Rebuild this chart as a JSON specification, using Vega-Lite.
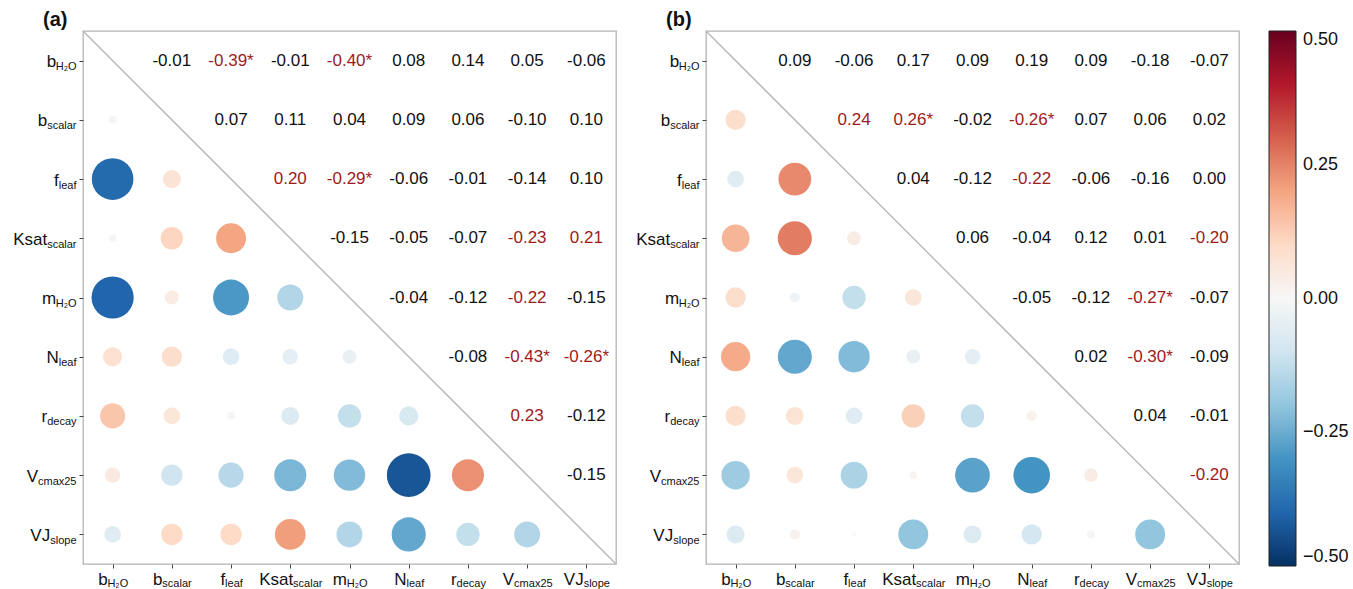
{
  "$schema": "https://vega.github.io/schema/vega-lite/v6.json",
  "padding": {"left": 12, "top": 9, "right": 0, "bottom": 0},
  "background": "white",
  "config": {
    "view": {"stroke": "#b4b4b4", "strokeWidth": 1.3},
    "font": "Liberation Sans",
    "axis": {"grid": false, "domain": false, "title": null, "labelFont": "Liberation Sans", "labelColor": "#111111", "tickColor": "#444444", "tickSize": 4, "labelAngle": 0, "labelLimit": 0, "labelOverlap": false},
    "title": {"font": "Liberation Sans", "fontSize": 20, "fontWeight": "bold", "anchor": "start", "frame": "group", "color": "#111111"}
  },
  "datasets": {
    "cells": [
      {"p":"a","part":"upper","row":"bH2O","col":"bscalar","r":-0.01,"label":"-0.01"},
      {"p":"a","part":"upper","row":"bH2O","col":"fleaf","r":-0.39,"label":"-0.39*"},
      {"p":"a","part":"upper","row":"bH2O","col":"Ksat","r":-0.01,"label":"-0.01"},
      {"p":"a","part":"upper","row":"bH2O","col":"mH2O","r":-0.40,"label":"-0.40*"},
      {"p":"a","part":"upper","row":"bH2O","col":"Nleaf","r":0.08,"label":"0.08"},
      {"p":"a","part":"upper","row":"bH2O","col":"rdecay","r":0.14,"label":"0.14"},
      {"p":"a","part":"upper","row":"bH2O","col":"Vcmax","r":0.05,"label":"0.05"},
      {"p":"a","part":"upper","row":"bH2O","col":"VJ","r":-0.06,"label":"-0.06"},
      {"p":"a","part":"upper","row":"bscalar","col":"fleaf","r":0.07,"label":"0.07"},
      {"p":"a","part":"upper","row":"bscalar","col":"Ksat","r":0.11,"label":"0.11"},
      {"p":"a","part":"upper","row":"bscalar","col":"mH2O","r":0.04,"label":"0.04"},
      {"p":"a","part":"upper","row":"bscalar","col":"Nleaf","r":0.09,"label":"0.09"},
      {"p":"a","part":"upper","row":"bscalar","col":"rdecay","r":0.06,"label":"0.06"},
      {"p":"a","part":"upper","row":"bscalar","col":"Vcmax","r":-0.10,"label":"-0.10"},
      {"p":"a","part":"upper","row":"bscalar","col":"VJ","r":0.10,"label":"0.10"},
      {"p":"a","part":"upper","row":"fleaf","col":"Ksat","r":0.20,"label":"0.20"},
      {"p":"a","part":"upper","row":"fleaf","col":"mH2O","r":-0.29,"label":"-0.29*"},
      {"p":"a","part":"upper","row":"fleaf","col":"Nleaf","r":-0.06,"label":"-0.06"},
      {"p":"a","part":"upper","row":"fleaf","col":"rdecay","r":-0.01,"label":"-0.01"},
      {"p":"a","part":"upper","row":"fleaf","col":"Vcmax","r":-0.14,"label":"-0.14"},
      {"p":"a","part":"upper","row":"fleaf","col":"VJ","r":0.10,"label":"0.10"},
      {"p":"a","part":"upper","row":"Ksat","col":"mH2O","r":-0.15,"label":"-0.15"},
      {"p":"a","part":"upper","row":"Ksat","col":"Nleaf","r":-0.05,"label":"-0.05"},
      {"p":"a","part":"upper","row":"Ksat","col":"rdecay","r":-0.07,"label":"-0.07"},
      {"p":"a","part":"upper","row":"Ksat","col":"Vcmax","r":-0.23,"label":"-0.23"},
      {"p":"a","part":"upper","row":"Ksat","col":"VJ","r":0.21,"label":"0.21"},
      {"p":"a","part":"upper","row":"mH2O","col":"Nleaf","r":-0.04,"label":"-0.04"},
      {"p":"a","part":"upper","row":"mH2O","col":"rdecay","r":-0.12,"label":"-0.12"},
      {"p":"a","part":"upper","row":"mH2O","col":"Vcmax","r":-0.22,"label":"-0.22"},
      {"p":"a","part":"upper","row":"mH2O","col":"VJ","r":-0.15,"label":"-0.15"},
      {"p":"a","part":"upper","row":"Nleaf","col":"rdecay","r":-0.08,"label":"-0.08"},
      {"p":"a","part":"upper","row":"Nleaf","col":"Vcmax","r":-0.43,"label":"-0.43*"},
      {"p":"a","part":"upper","row":"Nleaf","col":"VJ","r":-0.26,"label":"-0.26*"},
      {"p":"a","part":"upper","row":"rdecay","col":"Vcmax","r":0.23,"label":"0.23"},
      {"p":"a","part":"upper","row":"rdecay","col":"VJ","r":-0.12,"label":"-0.12"},
      {"p":"a","part":"upper","row":"Vcmax","col":"VJ","r":-0.15,"label":"-0.15"},
      {"p":"a","part":"lower","row":"bscalar","col":"bH2O","r":-0.01},
      {"p":"a","part":"lower","row":"fleaf","col":"bH2O","r":-0.39},
      {"p":"a","part":"lower","row":"fleaf","col":"bscalar","r":0.07},
      {"p":"a","part":"lower","row":"Ksat","col":"bH2O","r":-0.01},
      {"p":"a","part":"lower","row":"Ksat","col":"bscalar","r":0.11},
      {"p":"a","part":"lower","row":"Ksat","col":"fleaf","r":0.20},
      {"p":"a","part":"lower","row":"mH2O","col":"bH2O","r":-0.40},
      {"p":"a","part":"lower","row":"mH2O","col":"bscalar","r":0.04},
      {"p":"a","part":"lower","row":"mH2O","col":"fleaf","r":-0.29},
      {"p":"a","part":"lower","row":"mH2O","col":"Ksat","r":-0.15},
      {"p":"a","part":"lower","row":"Nleaf","col":"bH2O","r":0.08},
      {"p":"a","part":"lower","row":"Nleaf","col":"bscalar","r":0.09},
      {"p":"a","part":"lower","row":"Nleaf","col":"fleaf","r":-0.06},
      {"p":"a","part":"lower","row":"Nleaf","col":"Ksat","r":-0.05},
      {"p":"a","part":"lower","row":"Nleaf","col":"mH2O","r":-0.04},
      {"p":"a","part":"lower","row":"rdecay","col":"bH2O","r":0.14},
      {"p":"a","part":"lower","row":"rdecay","col":"bscalar","r":0.06},
      {"p":"a","part":"lower","row":"rdecay","col":"fleaf","r":-0.01},
      {"p":"a","part":"lower","row":"rdecay","col":"Ksat","r":-0.07},
      {"p":"a","part":"lower","row":"rdecay","col":"mH2O","r":-0.12},
      {"p":"a","part":"lower","row":"rdecay","col":"Nleaf","r":-0.08},
      {"p":"a","part":"lower","row":"Vcmax","col":"bH2O","r":0.05},
      {"p":"a","part":"lower","row":"Vcmax","col":"bscalar","r":-0.10},
      {"p":"a","part":"lower","row":"Vcmax","col":"fleaf","r":-0.14},
      {"p":"a","part":"lower","row":"Vcmax","col":"Ksat","r":-0.23},
      {"p":"a","part":"lower","row":"Vcmax","col":"mH2O","r":-0.22},
      {"p":"a","part":"lower","row":"Vcmax","col":"Nleaf","r":-0.43},
      {"p":"a","part":"lower","row":"Vcmax","col":"rdecay","r":0.23},
      {"p":"a","part":"lower","row":"VJ","col":"bH2O","r":-0.06},
      {"p":"a","part":"lower","row":"VJ","col":"bscalar","r":0.10},
      {"p":"a","part":"lower","row":"VJ","col":"fleaf","r":0.10},
      {"p":"a","part":"lower","row":"VJ","col":"Ksat","r":0.21},
      {"p":"a","part":"lower","row":"VJ","col":"mH2O","r":-0.15},
      {"p":"a","part":"lower","row":"VJ","col":"Nleaf","r":-0.26},
      {"p":"a","part":"lower","row":"VJ","col":"rdecay","r":-0.12},
      {"p":"a","part":"lower","row":"VJ","col":"Vcmax","r":-0.15},

      {"p":"b","part":"upper","row":"bH2O","col":"bscalar","r":0.09,"label":"0.09"},
      {"p":"b","part":"upper","row":"bH2O","col":"fleaf","r":-0.06,"label":"-0.06"},
      {"p":"b","part":"upper","row":"bH2O","col":"Ksat","r":0.17,"label":"0.17"},
      {"p":"b","part":"upper","row":"bH2O","col":"mH2O","r":0.09,"label":"0.09"},
      {"p":"b","part":"upper","row":"bH2O","col":"Nleaf","r":0.19,"label":"0.19"},
      {"p":"b","part":"upper","row":"bH2O","col":"rdecay","r":0.09,"label":"0.09"},
      {"p":"b","part":"upper","row":"bH2O","col":"Vcmax","r":-0.18,"label":"-0.18"},
      {"p":"b","part":"upper","row":"bH2O","col":"VJ","r":-0.07,"label":"-0.07"},
      {"p":"b","part":"upper","row":"bscalar","col":"fleaf","r":0.24,"label":"0.24"},
      {"p":"b","part":"upper","row":"bscalar","col":"Ksat","r":0.26,"label":"0.26*"},
      {"p":"b","part":"upper","row":"bscalar","col":"mH2O","r":-0.02,"label":"-0.02"},
      {"p":"b","part":"upper","row":"bscalar","col":"Nleaf","r":-0.26,"label":"-0.26*"},
      {"p":"b","part":"upper","row":"bscalar","col":"rdecay","r":0.07,"label":"0.07"},
      {"p":"b","part":"upper","row":"bscalar","col":"Vcmax","r":0.06,"label":"0.06"},
      {"p":"b","part":"upper","row":"bscalar","col":"VJ","r":0.02,"label":"0.02"},
      {"p":"b","part":"upper","row":"fleaf","col":"Ksat","r":0.04,"label":"0.04"},
      {"p":"b","part":"upper","row":"fleaf","col":"mH2O","r":-0.12,"label":"-0.12"},
      {"p":"b","part":"upper","row":"fleaf","col":"Nleaf","r":-0.22,"label":"-0.22"},
      {"p":"b","part":"upper","row":"fleaf","col":"rdecay","r":-0.06,"label":"-0.06"},
      {"p":"b","part":"upper","row":"fleaf","col":"Vcmax","r":-0.16,"label":"-0.16"},
      {"p":"b","part":"upper","row":"fleaf","col":"VJ","r":0.0,"label":"0.00"},
      {"p":"b","part":"upper","row":"Ksat","col":"mH2O","r":0.06,"label":"0.06"},
      {"p":"b","part":"upper","row":"Ksat","col":"Nleaf","r":-0.04,"label":"-0.04"},
      {"p":"b","part":"upper","row":"Ksat","col":"rdecay","r":0.12,"label":"0.12"},
      {"p":"b","part":"upper","row":"Ksat","col":"Vcmax","r":0.01,"label":"0.01"},
      {"p":"b","part":"upper","row":"Ksat","col":"VJ","r":-0.20,"label":"-0.20"},
      {"p":"b","part":"upper","row":"mH2O","col":"Nleaf","r":-0.05,"label":"-0.05"},
      {"p":"b","part":"upper","row":"mH2O","col":"rdecay","r":-0.12,"label":"-0.12"},
      {"p":"b","part":"upper","row":"mH2O","col":"Vcmax","r":-0.27,"label":"-0.27*"},
      {"p":"b","part":"upper","row":"mH2O","col":"VJ","r":-0.07,"label":"-0.07"},
      {"p":"b","part":"upper","row":"Nleaf","col":"rdecay","r":0.02,"label":"0.02"},
      {"p":"b","part":"upper","row":"Nleaf","col":"Vcmax","r":-0.30,"label":"-0.30*"},
      {"p":"b","part":"upper","row":"Nleaf","col":"VJ","r":-0.09,"label":"-0.09"},
      {"p":"b","part":"upper","row":"rdecay","col":"Vcmax","r":0.04,"label":"0.04"},
      {"p":"b","part":"upper","row":"rdecay","col":"VJ","r":-0.01,"label":"-0.01"},
      {"p":"b","part":"upper","row":"Vcmax","col":"VJ","r":-0.20,"label":"-0.20"},
      {"p":"b","part":"lower","row":"bscalar","col":"bH2O","r":0.09},
      {"p":"b","part":"lower","row":"fleaf","col":"bH2O","r":-0.06},
      {"p":"b","part":"lower","row":"fleaf","col":"bscalar","r":0.24},
      {"p":"b","part":"lower","row":"Ksat","col":"bH2O","r":0.17},
      {"p":"b","part":"lower","row":"Ksat","col":"bscalar","r":0.26},
      {"p":"b","part":"lower","row":"Ksat","col":"fleaf","r":0.04},
      {"p":"b","part":"lower","row":"mH2O","col":"bH2O","r":0.09},
      {"p":"b","part":"lower","row":"mH2O","col":"bscalar","r":-0.02},
      {"p":"b","part":"lower","row":"mH2O","col":"fleaf","r":-0.12},
      {"p":"b","part":"lower","row":"mH2O","col":"Ksat","r":0.06},
      {"p":"b","part":"lower","row":"Nleaf","col":"bH2O","r":0.19},
      {"p":"b","part":"lower","row":"Nleaf","col":"bscalar","r":-0.26},
      {"p":"b","part":"lower","row":"Nleaf","col":"fleaf","r":-0.22},
      {"p":"b","part":"lower","row":"Nleaf","col":"Ksat","r":-0.04},
      {"p":"b","part":"lower","row":"Nleaf","col":"mH2O","r":-0.05},
      {"p":"b","part":"lower","row":"rdecay","col":"bH2O","r":0.09},
      {"p":"b","part":"lower","row":"rdecay","col":"bscalar","r":0.07},
      {"p":"b","part":"lower","row":"rdecay","col":"fleaf","r":-0.06},
      {"p":"b","part":"lower","row":"rdecay","col":"Ksat","r":0.12},
      {"p":"b","part":"lower","row":"rdecay","col":"mH2O","r":-0.12},
      {"p":"b","part":"lower","row":"rdecay","col":"Nleaf","r":0.02},
      {"p":"b","part":"lower","row":"Vcmax","col":"bH2O","r":-0.18},
      {"p":"b","part":"lower","row":"Vcmax","col":"bscalar","r":0.06},
      {"p":"b","part":"lower","row":"Vcmax","col":"fleaf","r":-0.16},
      {"p":"b","part":"lower","row":"Vcmax","col":"Ksat","r":0.01},
      {"p":"b","part":"lower","row":"Vcmax","col":"mH2O","r":-0.27},
      {"p":"b","part":"lower","row":"Vcmax","col":"Nleaf","r":-0.30},
      {"p":"b","part":"lower","row":"Vcmax","col":"rdecay","r":0.04},
      {"p":"b","part":"lower","row":"VJ","col":"bH2O","r":-0.07},
      {"p":"b","part":"lower","row":"VJ","col":"bscalar","r":0.02},
      {"p":"b","part":"lower","row":"VJ","col":"fleaf","r":0.0},
      {"p":"b","part":"lower","row":"VJ","col":"Ksat","r":-0.20},
      {"p":"b","part":"lower","row":"VJ","col":"mH2O","r":-0.07},
      {"p":"b","part":"lower","row":"VJ","col":"Nleaf","r":-0.09},
      {"p":"b","part":"lower","row":"VJ","col":"rdecay","r":-0.01},
      {"p":"b","part":"lower","row":"VJ","col":"Vcmax","r":-0.20}
    ]
  },
  "spacing": 17,
  "resolve": {"scale": {"color": "shared", "size": "shared"}},
  "hconcat": [
    {
      "title": {"text": "(a)", "dx": -40, "offset": 0},
      "width": 533,
      "height": 533,
      "data": {"name": "cells"},
      "transform": [{"filter": "datum.p == 'a'"}],
      "resolve": {"axis": {"x": "independent", "y": "independent"}},
      "layer": [
        {
          "transform": [{"filter": "datum.part == 'lower'"}],
          "mark": {"type": "circle", "opacity": 1},
          "encoding": {
            "x": {"field": "col", "type": "nominal", "scale": {"domain": ["bH2O","bscalar","fleaf","Ksat","mH2O","Nleaf","rdecay","Vcmax","VJ"]},
              "axis": {"orient": "bottom", "labelFontSize": 17, "labelPadding": 3, "labelAlign": "center", "labelBaseline": "top",
                "labelOffset": {"expr": "[-10.2,-14.6,-8.8,-14.6,-10.2,-8.8,-14.6,-19.2,-13.1][indexof(['bH2O','bscalar','fleaf','Ksat','mH2O','Nleaf','rdecay','Vcmax','VJ'], datum.value)]"},
                "labelExpr": "['b','b','f','Ksat','m','N','r','V','VJ'][indexof(['bH2O','bscalar','fleaf','Ksat','mH2O','Nleaf','rdecay','Vcmax','VJ'], datum.value)]"}},
            "y": {"field": "row", "type": "nominal", "scale": {"domain": ["bH2O","bscalar","fleaf","Ksat","mH2O","Nleaf","rdecay","Vcmax","VJ"]},
              "axis": {"orient": "left", "labelFontSize": 17, "labelAlign": "right", "labelBaseline": "middle", "labelOffset": 1,
                "labelPadding": {"expr": "[23.4,32.3,20.7,32.3,23.4,20.7,32.3,41.5,29.3][indexof(['bH2O','bscalar','fleaf','Ksat','mH2O','Nleaf','rdecay','Vcmax','VJ'], datum.value)]"},
                "labelExpr": "['b','b','f','Ksat','m','N','r','V','VJ'][indexof(['bH2O','bscalar','fleaf','Ksat','mH2O','Nleaf','rdecay','Vcmax','VJ'], datum.value)]"}},
            "size": {"field": "r", "type": "quantitative", "scale": {"domain": [-0.5, 0, 0.5], "range": [2220, 15, 2220]}, "legend": null},
            "color": {"field": "r", "type": "quantitative",
              "scale": {"domain": [-0.5,-0.4,-0.3,-0.2,-0.1,0,0.1,0.2,0.3,0.4,0.5], "range": ["#053061","#2166ac","#4393c3","#92c5de","#d1e5f0","#f7f7f7","#fddbc7","#f4a582","#d6604d","#b2182b","#67001f"], "interpolate": "rgb"},
              "legend": {"orient": "none", "legendX": 1186, "legendY": 0, "direction": "vertical", "gradientLength": 535, "gradientThickness": 27, "values": [-0.5, -0.25, 0, 0.25, 0.5], "format": ".2f", "labelFontSize": 18, "labelFont": "Liberation Sans", "labelColor": "#111111", "labelOffset": 7, "labelBaseline": "middle", "gradientStrokeColor": "#222222", "gradientStrokeWidth": 1, "title": null, "padding": 0}}
          }
        },
        {
          "transform": [{"filter": "datum.part == 'upper'"}],
          "mark": {"type": "text", "fontSize": 17, "font": "Liberation Sans"},
          "encoding": {
            "x": {"field": "col", "type": "nominal", "scale": {"domain": ["bH2O","bscalar","fleaf","Ksat","mH2O","Nleaf","rdecay","Vcmax","VJ"]},
              "axis": {"orient": "bottom", "labelFontSize": 11, "labelPadding": 9, "labelAlign": "center", "labelBaseline": "top", "tickOpacity": 0,
                "labelOffset": {"expr": "[4.7,4.7,2.4,17.0,7.1,6.1,2.8,5.7,9.9][indexof(['bH2O','bscalar','fleaf','Ksat','mH2O','Nleaf','rdecay','Vcmax','VJ'], datum.value)]"},
                "labelExpr": "['H\u2082O','scalar','leaf','scalar','H\u2082O','leaf','decay','cmax25','slope'][indexof(['bH2O','bscalar','fleaf','Ksat','mH2O','Nleaf','rdecay','Vcmax','VJ'], datum.value)]"}},
            "y": {"field": "row", "type": "nominal", "scale": {"domain": ["bH2O","bscalar","fleaf","Ksat","mH2O","Nleaf","rdecay","Vcmax","VJ"]},
              "axis": {"orient": "left", "labelFontSize": 11, "labelPadding": 3, "labelAlign": "right", "labelBaseline": "middle", "labelOffset": 6, "tickOpacity": 0,
                "labelExpr": "['H\u2082O','scalar','leaf','scalar','H\u2082O','leaf','decay','cmax25','slope'][indexof(['bH2O','bscalar','fleaf','Ksat','mH2O','Nleaf','rdecay','Vcmax','VJ'], datum.value)]"}},
            "text": {"field": "label", "type": "nominal"},
            "color": {"condition": {"test": "abs(datum.r) >= 0.195", "value": "#9e1b1b"}, "value": "#111111"}
          }
        },
        {
          "data": {"values": [{}]},
          "mark": {"type": "rule", "color": "#b4b4b4", "strokeWidth": 1.3},
          "encoding": {"x": {"value": 0}, "y": {"value": 0}, "x2": {"value": "width"}, "y2": {"value": "height"}}
        }
      ]
    },
    {
      "title": {"text": "(b)", "dx": -40, "offset": 0},
      "width": 533,
      "height": 533,
      "data": {"name": "cells"},
      "transform": [{"filter": "datum.p == 'b'"}],
      "resolve": {"axis": {"x": "independent", "y": "independent"}},
      "layer": [
        {
          "transform": [{"filter": "datum.part == 'lower'"}],
          "mark": {"type": "circle", "opacity": 1},
          "encoding": {
            "x": {"field": "col", "type": "nominal", "scale": {"domain": ["bH2O","bscalar","fleaf","Ksat","mH2O","Nleaf","rdecay","Vcmax","VJ"]},
              "axis": {"orient": "bottom", "labelFontSize": 17, "labelPadding": 3, "labelAlign": "center", "labelBaseline": "top",
                "labelOffset": {"expr": "[-10.2,-14.6,-8.8,-14.6,-10.2,-8.8,-14.6,-19.2,-13.1][indexof(['bH2O','bscalar','fleaf','Ksat','mH2O','Nleaf','rdecay','Vcmax','VJ'], datum.value)]"},
                "labelExpr": "['b','b','f','Ksat','m','N','r','V','VJ'][indexof(['bH2O','bscalar','fleaf','Ksat','mH2O','Nleaf','rdecay','Vcmax','VJ'], datum.value)]"}},
            "y": {"field": "row", "type": "nominal", "scale": {"domain": ["bH2O","bscalar","fleaf","Ksat","mH2O","Nleaf","rdecay","Vcmax","VJ"]},
              "axis": {"orient": "left", "labelFontSize": 17, "labelAlign": "right", "labelBaseline": "middle", "labelOffset": 1,
                "labelPadding": {"expr": "[23.4,32.3,20.7,32.3,23.4,20.7,32.3,41.5,29.3][indexof(['bH2O','bscalar','fleaf','Ksat','mH2O','Nleaf','rdecay','Vcmax','VJ'], datum.value)]"},
                "labelExpr": "['b','b','f','Ksat','m','N','r','V','VJ'][indexof(['bH2O','bscalar','fleaf','Ksat','mH2O','Nleaf','rdecay','Vcmax','VJ'], datum.value)]"}},
            "size": {"field": "r", "type": "quantitative", "scale": {"domain": [-0.5, 0, 0.5], "range": [2220, 15, 2220]}, "legend": null},
            "color": {"field": "r", "type": "quantitative",
              "scale": {"domain": [-0.5,-0.4,-0.3,-0.2,-0.1,0,0.1,0.2,0.3,0.4,0.5], "range": ["#053061","#2166ac","#4393c3","#92c5de","#d1e5f0","#f7f7f7","#fddbc7","#f4a582","#d6604d","#b2182b","#67001f"], "interpolate": "rgb"},
              "legend": {"orient": "none", "legendX": 1186, "legendY": 0, "direction": "vertical", "gradientLength": 535, "gradientThickness": 27, "values": [-0.5, -0.25, 0, 0.25, 0.5], "format": ".2f", "labelFontSize": 18, "labelFont": "Liberation Sans", "labelColor": "#111111", "labelOffset": 7, "labelBaseline": "middle", "gradientStrokeColor": "#222222", "gradientStrokeWidth": 1, "title": null, "padding": 0}}
          }
        },
        {
          "transform": [{"filter": "datum.part == 'upper'"}],
          "mark": {"type": "text", "fontSize": 17, "font": "Liberation Sans"},
          "encoding": {
            "x": {"field": "col", "type": "nominal", "scale": {"domain": ["bH2O","bscalar","fleaf","Ksat","mH2O","Nleaf","rdecay","Vcmax","VJ"]},
              "axis": {"orient": "bottom", "labelFontSize": 11, "labelPadding": 9, "labelAlign": "center", "labelBaseline": "top", "tickOpacity": 0,
                "labelOffset": {"expr": "[4.7,4.7,2.4,17.0,7.1,6.1,2.8,5.7,9.9][indexof(['bH2O','bscalar','fleaf','Ksat','mH2O','Nleaf','rdecay','Vcmax','VJ'], datum.value)]"},
                "labelExpr": "['H\u2082O','scalar','leaf','scalar','H\u2082O','leaf','decay','cmax25','slope'][indexof(['bH2O','bscalar','fleaf','Ksat','mH2O','Nleaf','rdecay','Vcmax','VJ'], datum.value)]"}},
            "y": {"field": "row", "type": "nominal", "scale": {"domain": ["bH2O","bscalar","fleaf","Ksat","mH2O","Nleaf","rdecay","Vcmax","VJ"]},
              "axis": {"orient": "left", "labelFontSize": 11, "labelPadding": 3, "labelAlign": "right", "labelBaseline": "middle", "labelOffset": 6, "tickOpacity": 0,
                "labelExpr": "['H\u2082O','scalar','leaf','scalar','H\u2082O','leaf','decay','cmax25','slope'][indexof(['bH2O','bscalar','fleaf','Ksat','mH2O','Nleaf','rdecay','Vcmax','VJ'], datum.value)]"}},
            "text": {"field": "label", "type": "nominal"},
            "color": {"condition": {"test": "abs(datum.r) >= 0.195", "value": "#9e1b1b"}, "value": "#111111"}
          }
        },
        {
          "data": {"values": [{}]},
          "mark": {"type": "rule", "color": "#b4b4b4", "strokeWidth": 1.3},
          "encoding": {"x": {"value": 0}, "y": {"value": 0}, "x2": {"value": "width"}, "y2": {"value": "height"}}
        }
      ]
    }
  ]
}
